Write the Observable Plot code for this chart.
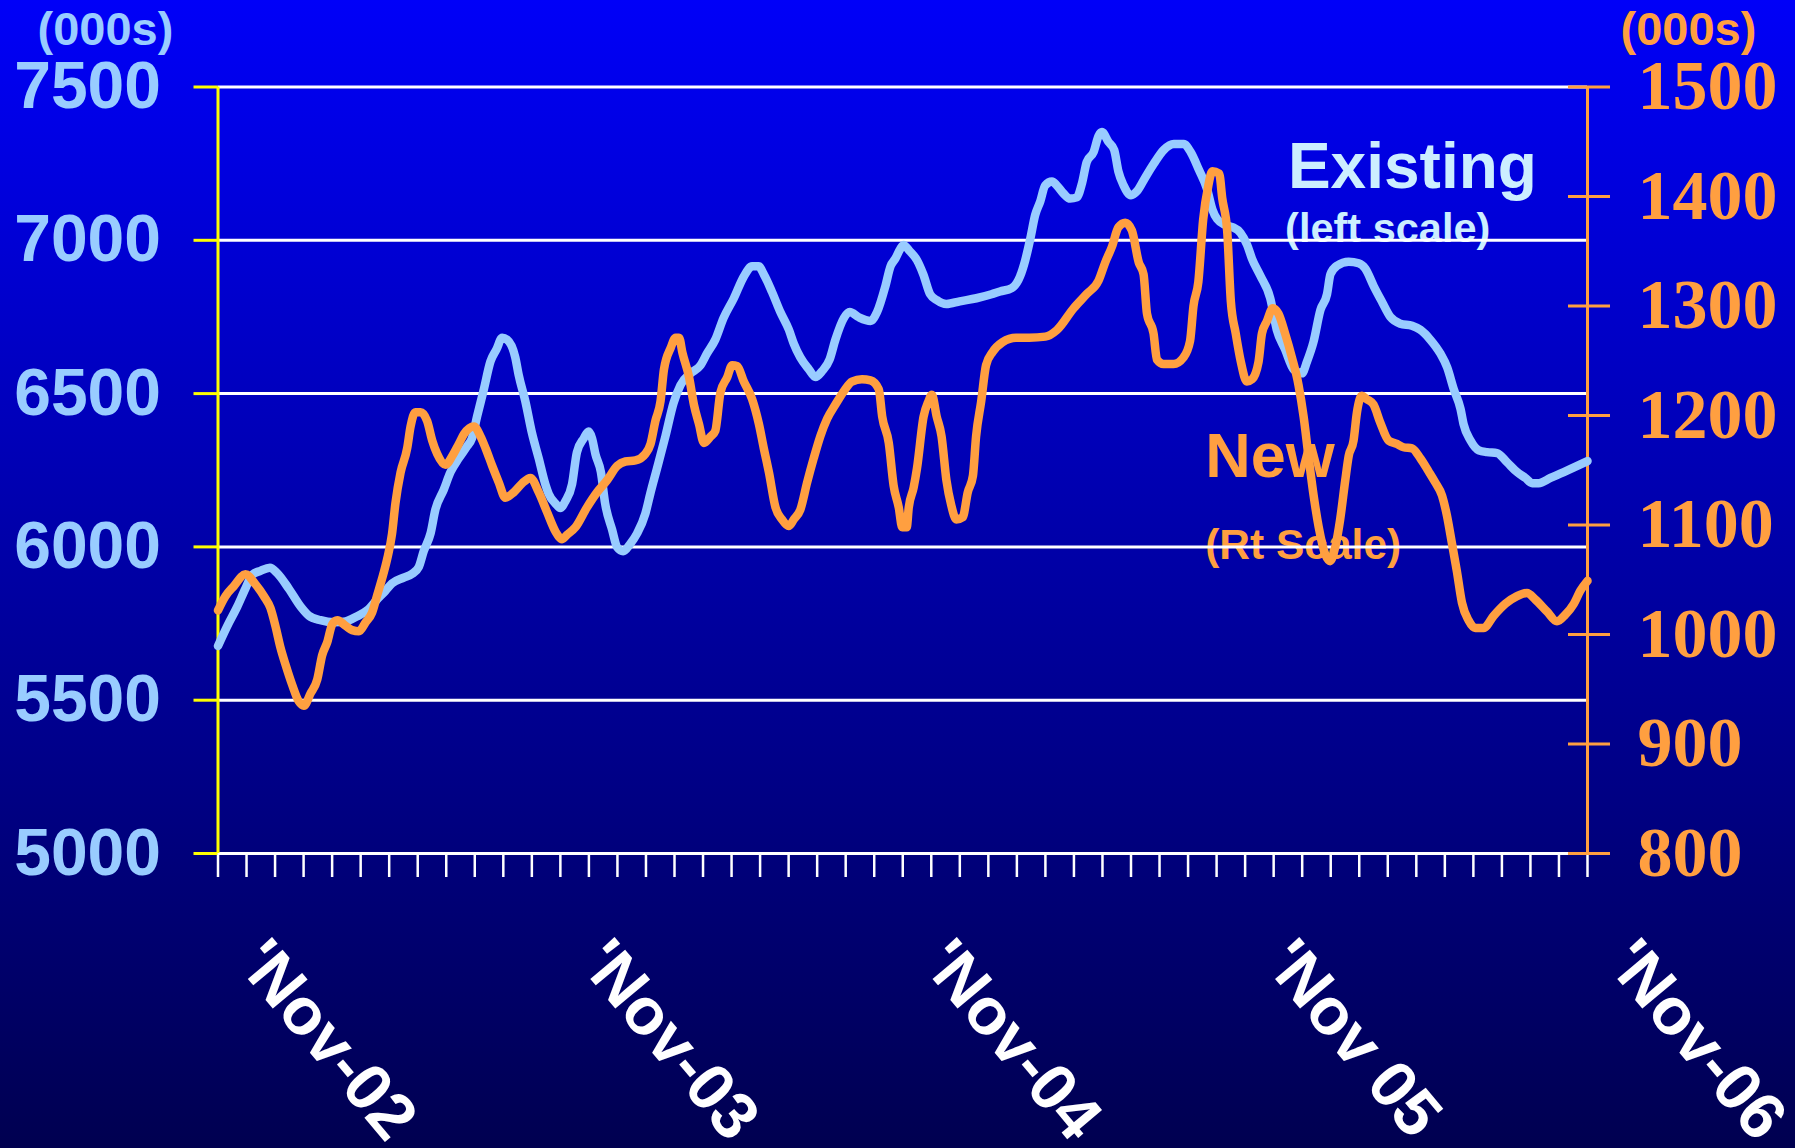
<!DOCTYPE html>
<html>
<head>
<meta charset="utf-8">
<script src="https://cdn.jsdelivr.net/npm/d3@7"></script>
<script src="https://cdn.jsdelivr.net/npm/@observablehq/plot@0.6"></script>
<style>
  html, body { margin: 0; padding: 0; width: 1795px; height: 1148px; overflow: hidden;
    background: linear-gradient(to bottom, #0000F8 0%, #000050 100%); }
  #chart svg { display: block; }
</style>
</head>
<body>
<div id="chart"></div>
<script>
// ---- Data (months since Nov-2002, values in thousands) ----
const existingMonths = [0,0.32,0.68,0.96,1.2,1.49,1.82,2.07,2.48,2.89,3.18,3.59,4.06,4.47,4.88,5.23,5.58,5.87,6.1,6.51,6.8,7.04,7.21,7.45,7.62,7.91,8.15,8.44,8.73,8.9,9.08,9.32,9.55,9.76,9.96,10.13,10.42,10.54,10.77,11.0,11.24,11.47,11.59,11.83,12.0,12.18,12.41,12.58,12.82,12.99,13.11,13.23,13.42,13.57,13.81,13.99,14.2,14.45,14.69,14.98,15.15,15.39,15.68,15.97,16.21,16.56,16.91,17.14,17.43,17.72,18.08,18.43,18.72,18.95,19.13,19.42,19.71,20.01,20.18,20.41,20.71,20.94,21.17,21.44,21.64,21.94,22.14,22.46,22.87,23.1,23.39,23.57,23.74,23.92,24.03,24.24,24.5,24.72,24.96,25.19,25.53,26.0,26.58,27.11,27.41,27.82,28.11,28.29,28.47,28.64,28.82,28.99,29.23,29.4,29.63,29.87,30.1,30.28,30.45,30.69,30.86,30.98,31.21,31.41,31.56,31.74,32.0,32.21,32.5,32.8,33.15,33.5,33.85,34.09,34.38,34.67,34.85,35.02,35.31,35.55,35.84,36.07,36.24,36.53,36.88,37.11,37.4,37.7,37.99,38.17,38.4,38.64,38.87,38.99,39.22,39.63,39.98,40.21,40.51,40.8,41.09,41.44,41.85,42.14,42.49,42.84,43.08,43.31,43.55,43.66,43.9,44.19,44.48,44.83,45.18,45.53,45.82,46.06,46.29,46.7,47.17,47.64,48];
const existingValues = [5677,5741,5806,5864,5909,5922,5932,5915,5864,5806,5776,5761,5754,5757,5774,5793,5829,5857,5881,5900,5912,5935,5986,6044,6122,6186,6244,6289,6328,6354,6425,6515,6605,6644,6682,6676,6618,6560,6476,6373,6289,6205,6173,6141,6127,6150,6205,6309,6354,6376,6354,6302,6244,6141,6057,5999,5986,6010,6044,6109,6173,6257,6360,6470,6528,6566,6592,6631,6676,6747,6811,6882,6915,6915,6889,6831,6766,6708,6663,6618,6579,6554,6573,6612,6676,6747,6766,6749,6737,6766,6850,6915,6940,6973,6985,6965,6935,6889,6824,6805,6792,6801,6811,6824,6833,6844,6882,6934,7005,7082,7127,7179,7192,7179,7153,7136,7140,7185,7256,7288,7340,7353,7321,7295,7224,7179,7147,7160,7205,7250,7295,7314,7314,7288,7230,7166,7101,7069,7050,7043,7024,6985,6940,6885,6811,6708,6644,6579,6566,6605,6670,6773,6824,6889,6917,6930,6925,6908,6850,6799,6750,6728,6721,6708,6676,6631,6586,6515,6450,6399,6347,6315,6309,6306,6276,6244,6225,6208,6208,6225,6244,6264,6280];

const newMonths = [0,0.26,0.55,0.96,1.31,1.61,1.84,2.01,2.19,2.36,2.6,2.83,3.01,3.24,3.48,3.65,3.83,4.0,4.18,4.47,4.7,4.94,5.17,5.4,5.58,5.75,5.93,6.1,6.22,6.4,6.63,6.75,6.92,7.1,7.33,7.51,7.68,7.97,8.21,8.44,8.62,8.97,9.2,9.38,9.61,9.84,10.07,10.37,10.66,10.95,11.24,11.53,11.83,12.06,12.23,12.53,12.93,13.29,13.64,13.99,14.28,14.63,14.98,15.16,15.33,15.51,15.63,15.87,16.04,16.16,16.28,16.51,16.68,16.86,17.03,17.27,17.43,17.61,17.85,18.02,18.2,18.43,18.72,18.96,19.13,19.31,19.54,19.77,20.0,20.18,20.41,20.65,20.88,21.11,21.35,21.64,21.93,22.22,22.57,22.87,23.16,23.28,23.51,23.68,23.86,23.98,24.14,24.21,24.38,24.5,24.73,24.9,25.02,25.19,25.36,25.53,25.7,25.88,26.1,26.28,26.46,26.57,26.75,26.92,27.15,27.5,27.97,28.43,29.0,29.4,29.99,30.45,30.86,31.1,31.33,31.56,31.8,32.03,32.27,32.44,32.56,32.79,32.91,33.14,33.49,33.84,34.07,34.19,34.36,34.53,34.71,34.85,35.09,35.2,35.37,35.5,35.67,35.85,36.06,36.24,36.47,36.59,36.76,36.97,37.17,37.4,37.64,37.87,38.05,38.22,38.4,38.58,38.81,38.98,39.16,39.33,39.51,39.63,39.8,39.92,40.09,40.26,40.5,40.73,41.03,41.32,41.55,41.85,42.14,42.43,42.66,42.9,43.07,43.25,43.42,43.6,43.83,44.07,44.36,44.71,45.12,45.53,45.88,46.17,46.58,46.93,47.22,47.52,47.75,48];
const newValues = [1022,1035,1044,1055,1046,1035,1024,1008,988,973,954,939,935,946,959,981,993,1009,1013,1008,1004,1003,1011,1020,1036,1051,1069,1092,1120,1148,1170,1190,1203,1203,1195,1177,1165,1155,1163,1174,1183,1190,1181,1170,1154,1139,1125,1130,1138,1143,1130,1112,1094,1087,1091,1098,1116,1130,1141,1154,1158,1159,1165,1174,1195,1213,1242,1262,1271,1271,1257,1235,1210,1192,1175,1181,1186,1221,1235,1246,1245,1231,1215,1192,1170,1148,1116,1105,1099,1105,1114,1139,1161,1181,1197,1210,1222,1231,1233,1232,1224,1199,1175,1136,1116,1098,1098,1116,1134,1152,1199,1213,1219,1199,1181,1141,1118,1105,1107,1130,1145,1181,1213,1246,1258,1267,1271,1271,1272,1278,1298,1311,1323,1340,1354,1372,1376,1369,1340,1329,1293,1275,1251,1247,1247,1253,1268,1300,1322,1379,1410,1423,1421,1398,1369,1304,1275,1249,1231,1233,1249,1275,1286,1298,1293,1275,1253,1228,1199,1163,1127,1098,1073,1067,1080,1105,1141,1163,1177,1203,1218,1215,1210,1194,1177,1174,1171,1170,1161,1149,1139,1127,1109,1083,1058,1029,1013,1006,1006,1017,1028,1035,1038,1032,1021,1012,1018,1028,1040,1049];

const leftTicks = [5000, 5500, 6000, 6500, 7000, 7500];
const rightTicks = [800, 900, 1000, 1100, 1200, 1300, 1400, 1500];
const monthTicks = d3.range(0, 49);
const yearTicks = [0, 12, 24, 36, 48];
const yearLabels = ["'Nov-02", "'Nov-03", "'Nov-04", "'Nov 05", "'Nov-06"];

const annotations = [
  {text: "Existing", m: 37.5, v: 7169, size: 64, color: "#CCEEFF"},
  {text: "(left scale)", m: 37.4, v: 6993, size: 41.5, color: "#CCEEFF"},
  {text: "New", m: 34.6, v: 6229, size: 63, color: "#FF9F40"},
  {text: "(Rt Scale)", m: 34.6, v: 5962, size: 42.5, color: "#FF9F40"}
];

// ---- Dual-scale mapping (right scale 800–1500 onto left 5000–7500) ----
const toLeft = v => 5000 + (v - 800) * 2500 / 700;
const fromLeft = v => 800 + (v - 5000) * 700 / 2500;

const BLUE = "#99CCFF", ORANGE = "#FF9F40", YELLOW = "#FFFF00";
const SANS = "'Liberation Sans', Arial, Helvetica, sans-serif";
const SERIF = "'Liberation Serif', 'Times New Roman', serif";

const existing = existingMonths.map((m, i) => ({m, v: existingValues[i]}));
const newer = newMonths.map((m, i) => ({m, v: toLeft(newValues[i])}));

const chart = Plot.plot({
  width: 1795,
  height: 1148,
  marginLeft: 217.5,
  marginRight: 208,
  marginTop: 86.5,
  marginBottom: 295,
  style: {background: "transparent", fontFamily: SANS, overflow: "visible"},
  x: {domain: [0, 48], axis: null},
  y: {domain: [5000, 7500], axis: null},
  marks: [
    ...annotations.map(a => Plot.text([a], {
      x: "m", y: "v", text: "text", fill: a.color, fontSize: a.size,
      fontWeight: "bold", textAnchor: "start", lineAnchor: "bottom", fontFamily: SANS
    })),
    Plot.ruleY(leftTicks, {stroke: "white", strokeWidth: 3}),
    Plot.axisX(monthTicks, {anchor: "bottom", tickSize: 24, stroke: "white", strokeWidth: 2.5,
      tickFormat: () => "", label: null}),
    Plot.axisX(yearTicks, {anchor: "bottom", tickSize: 0, tickPadding: 0, tickRotate: 50,
      textAnchor: "start", lineAnchor: "bottom", dx: 17, dy: 110, fill: "white",
      fontSize: 66, fontWeight: "bold", fontFamily: SANS,
      tickFormat: d => yearLabels[yearTicks.indexOf(d)], label: null}),
    Plot.ruleX([0], {stroke: YELLOW, strokeWidth: 3}),
    Plot.ruleX([48], {stroke: ORANGE, strokeWidth: 3}),
    Plot.axisY(leftTicks, {anchor: "left", tickSize: 24, tickPadding: 33, stroke: YELLOW,
      strokeWidth: 3, fill: BLUE, fontSize: 66, fontWeight: "bold", fontFamily: SANS,
      tickFormat: d => String(d), label: null}),
    Plot.axisY(rightTicks.map(toLeft), {anchor: "right", tickSize: 42, dx: -20, tickPadding: 28,
      stroke: ORANGE, strokeWidth: 3, fill: ORANGE, fontSize: 70, fontWeight: "bold",
      fontFamily: SERIF, tickFormat: d => String(Math.round(fromLeft(d))), label: null}),
    Plot.text(["(000s)"], {text: d => d, frameAnchor: "top-left", dx: -180.5, dy: -42.5,
      textAnchor: "start", lineAnchor: "bottom", fill: BLUE, fontSize: 47, fontWeight: "bold", fontFamily: SANS}),
    Plot.text(["(000s)"], {text: d => d, frameAnchor: "top-right", dx: 33, dy: -42.5,
      textAnchor: "start", lineAnchor: "bottom", fill: ORANGE, fontSize: 47, fontWeight: "bold", fontFamily: SANS}),
    Plot.line(existing, {x: "m", y: "v", stroke: BLUE, strokeWidth: 8.5, curve: "monotone-x",
      strokeLinejoin: "round", strokeLinecap: "round"}),
    Plot.line(newer, {x: "m", y: "v", stroke: ORANGE, strokeWidth: 8.5, curve: "monotone-x",
      strokeLinejoin: "round", strokeLinecap: "round"})
  ]
});
document.getElementById("chart").appendChild(chart);
</script>
</body>
</html>
